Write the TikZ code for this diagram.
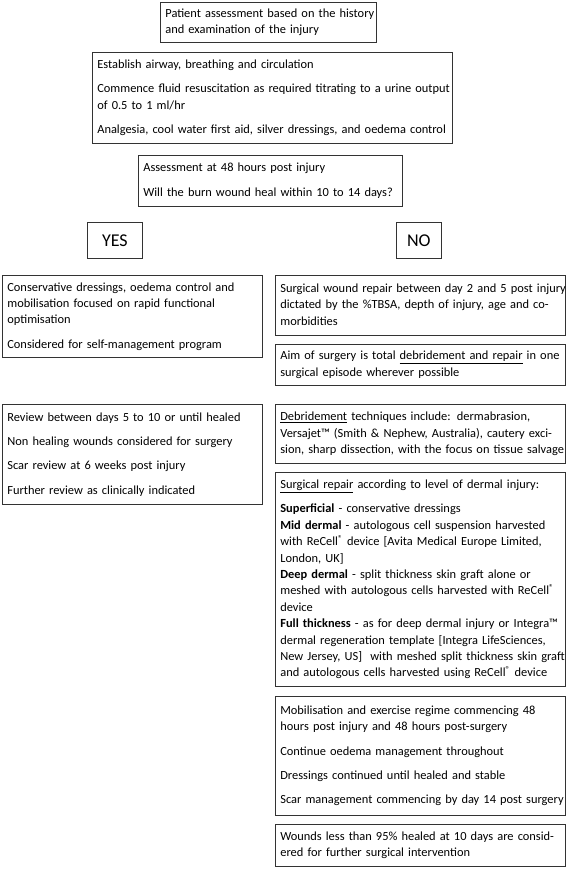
\documentclass[tikz,border=0pt]{standalone}
\usepackage{fontspec}
\setmainfont{Carlito}
\newcommand{\boxlines}[1]{\noindent\begin{tabular}{@{}l@{}}#1\end{tabular}}
\newcommand{\reg}{\textsuperscript{®}}
\begin{document}
\begin{tikzpicture}[x=1pt,y=-1pt,
  box/.style={draw=black!80, line width=0.7pt, anchor=north west, inner xsep=5pt, inner ysep=0pt, align=left,
    font=\fontsize{12.4}{16.4}\selectfont},
  choice/.style={draw=black!80, line width=0.7pt, anchor=north west, inner sep=0pt,
    font=\fontsize{18}{20}\selectfont}]
\useasboundingbox (0,0) rectangle (567,871);
\fill[white] (0,0) rectangle (567,871);

\node[box, text width=206pt, minimum height=40pt] (b1) at (160,2)
  {\boxlines{Patient assessment based on the history\\and examination of the injury}};

\node[box, text width=350pt, minimum height=91pt] (b2) at (92,52)
  {\boxlines{Establish airway, breathing and circulation\\[8pt]
  Commence fluid resuscitation as required titrating to a urine output\\
  of 0.5 to 1 ml/hr\\[8pt]
  Analgesia, cool water first aid, silver dressings, and oedema control}};

\node[box, text width=254pt, minimum height=51pt] (b3) at (138,155)
  {\boxlines{Assessment at 48 hours post injury\\[8pt]
  Will the burn wound heal within 10 to 14 days?}};

\node[choice, minimum width=55pt, minimum height=36pt] (yes) at (87,222) {YES};
\node[choice, minimum width=45pt, minimum height=36pt] (no) at (396,222) {NO};

\node[box, text width=250pt, minimum height=82pt] (l1) at (2,275)
  {\boxlines{Conservative dressings, oedema control and\\
  mobilisation focused on rapid functional\\
  optimisation\\[8pt]
  Considered for self-management program}};

\node[box, text width=250pt, minimum height=100pt] (l2) at (2,404)
  {\boxlines{Review between days 5 to 10 or until healed\\[8pt]
  Non healing wounds considered for surgery\\[8pt]
  Scar review at 6 weeks post injury\\[8pt]
  Further review as clinically indicated}};

\node[box, text width=280pt, minimum height=60pt] (r1) at (275,275)
  {\boxlines{Surgical wound repair between day 2 and 5 post injury\\
  dictated by the \%TBSA, depth of injury, age and co-\\
  morbidities}};

\node[box, text width=280pt, minimum height=41pt] (r2) at (275,344)
  {\boxlines{Aim of surgery is total \underline{debridement and repair} in one\\
  surgical episode wherever possible}};

\node[box, text width=280pt, minimum height=59pt] (r3) at (275,404)
  {\boxlines{\underline{Debridement} techniques include: dermabrasion,\\
  Versajet™ (Smith \& Nephew, Australia), cautery exci-\\
  sion, sharp dissection, with the focus on tissue salvage}};

\node[box, text width=280pt, minimum height=214pt] (r4) at (275,472)
  {\boxlines{\underline{Surgical repair} according to level of dermal injury:\\[8pt]
  \textbf{Superficial} - conservative dressings\\
  \textbf{Mid dermal} - autologous cell suspension harvested\\
  with ReCell\reg{} device [Avita Medical Europe Limited,\\
  London, UK]\\
  \textbf{Deep dermal} - split thickness skin graft alone or\\
  meshed with autologous cells harvested with ReCell\reg\\
  device\\
  \textbf{Full thickness} - as for deep dermal injury or Integra™\\
  dermal regeneration template [Integra LifeSciences,\\
  New Jersey, US]\ \ with meshed split thickness skin graft\\
  and autologous cells harvested using ReCell\reg{} device}};

\node[box, text width=280pt, minimum height=119pt] (r5) at (275,696)
  {\boxlines{Mobilisation and exercise regime commencing 48\\
  hours post injury and 48 hours post-surgery\\[8pt]
  Continue oedema management throughout\\[8pt]
  Dressings continued until healed and stable\\[8pt]
  Scar management commencing by day 14 post surgery}};

\node[box, text width=280pt, minimum height=42pt] (r6) at (275,824)
  {\boxlines{Wounds less than 95\% healed at 10 days are consid-\\
  ered for further surgical intervention}};
\end{tikzpicture}
\end{document}
